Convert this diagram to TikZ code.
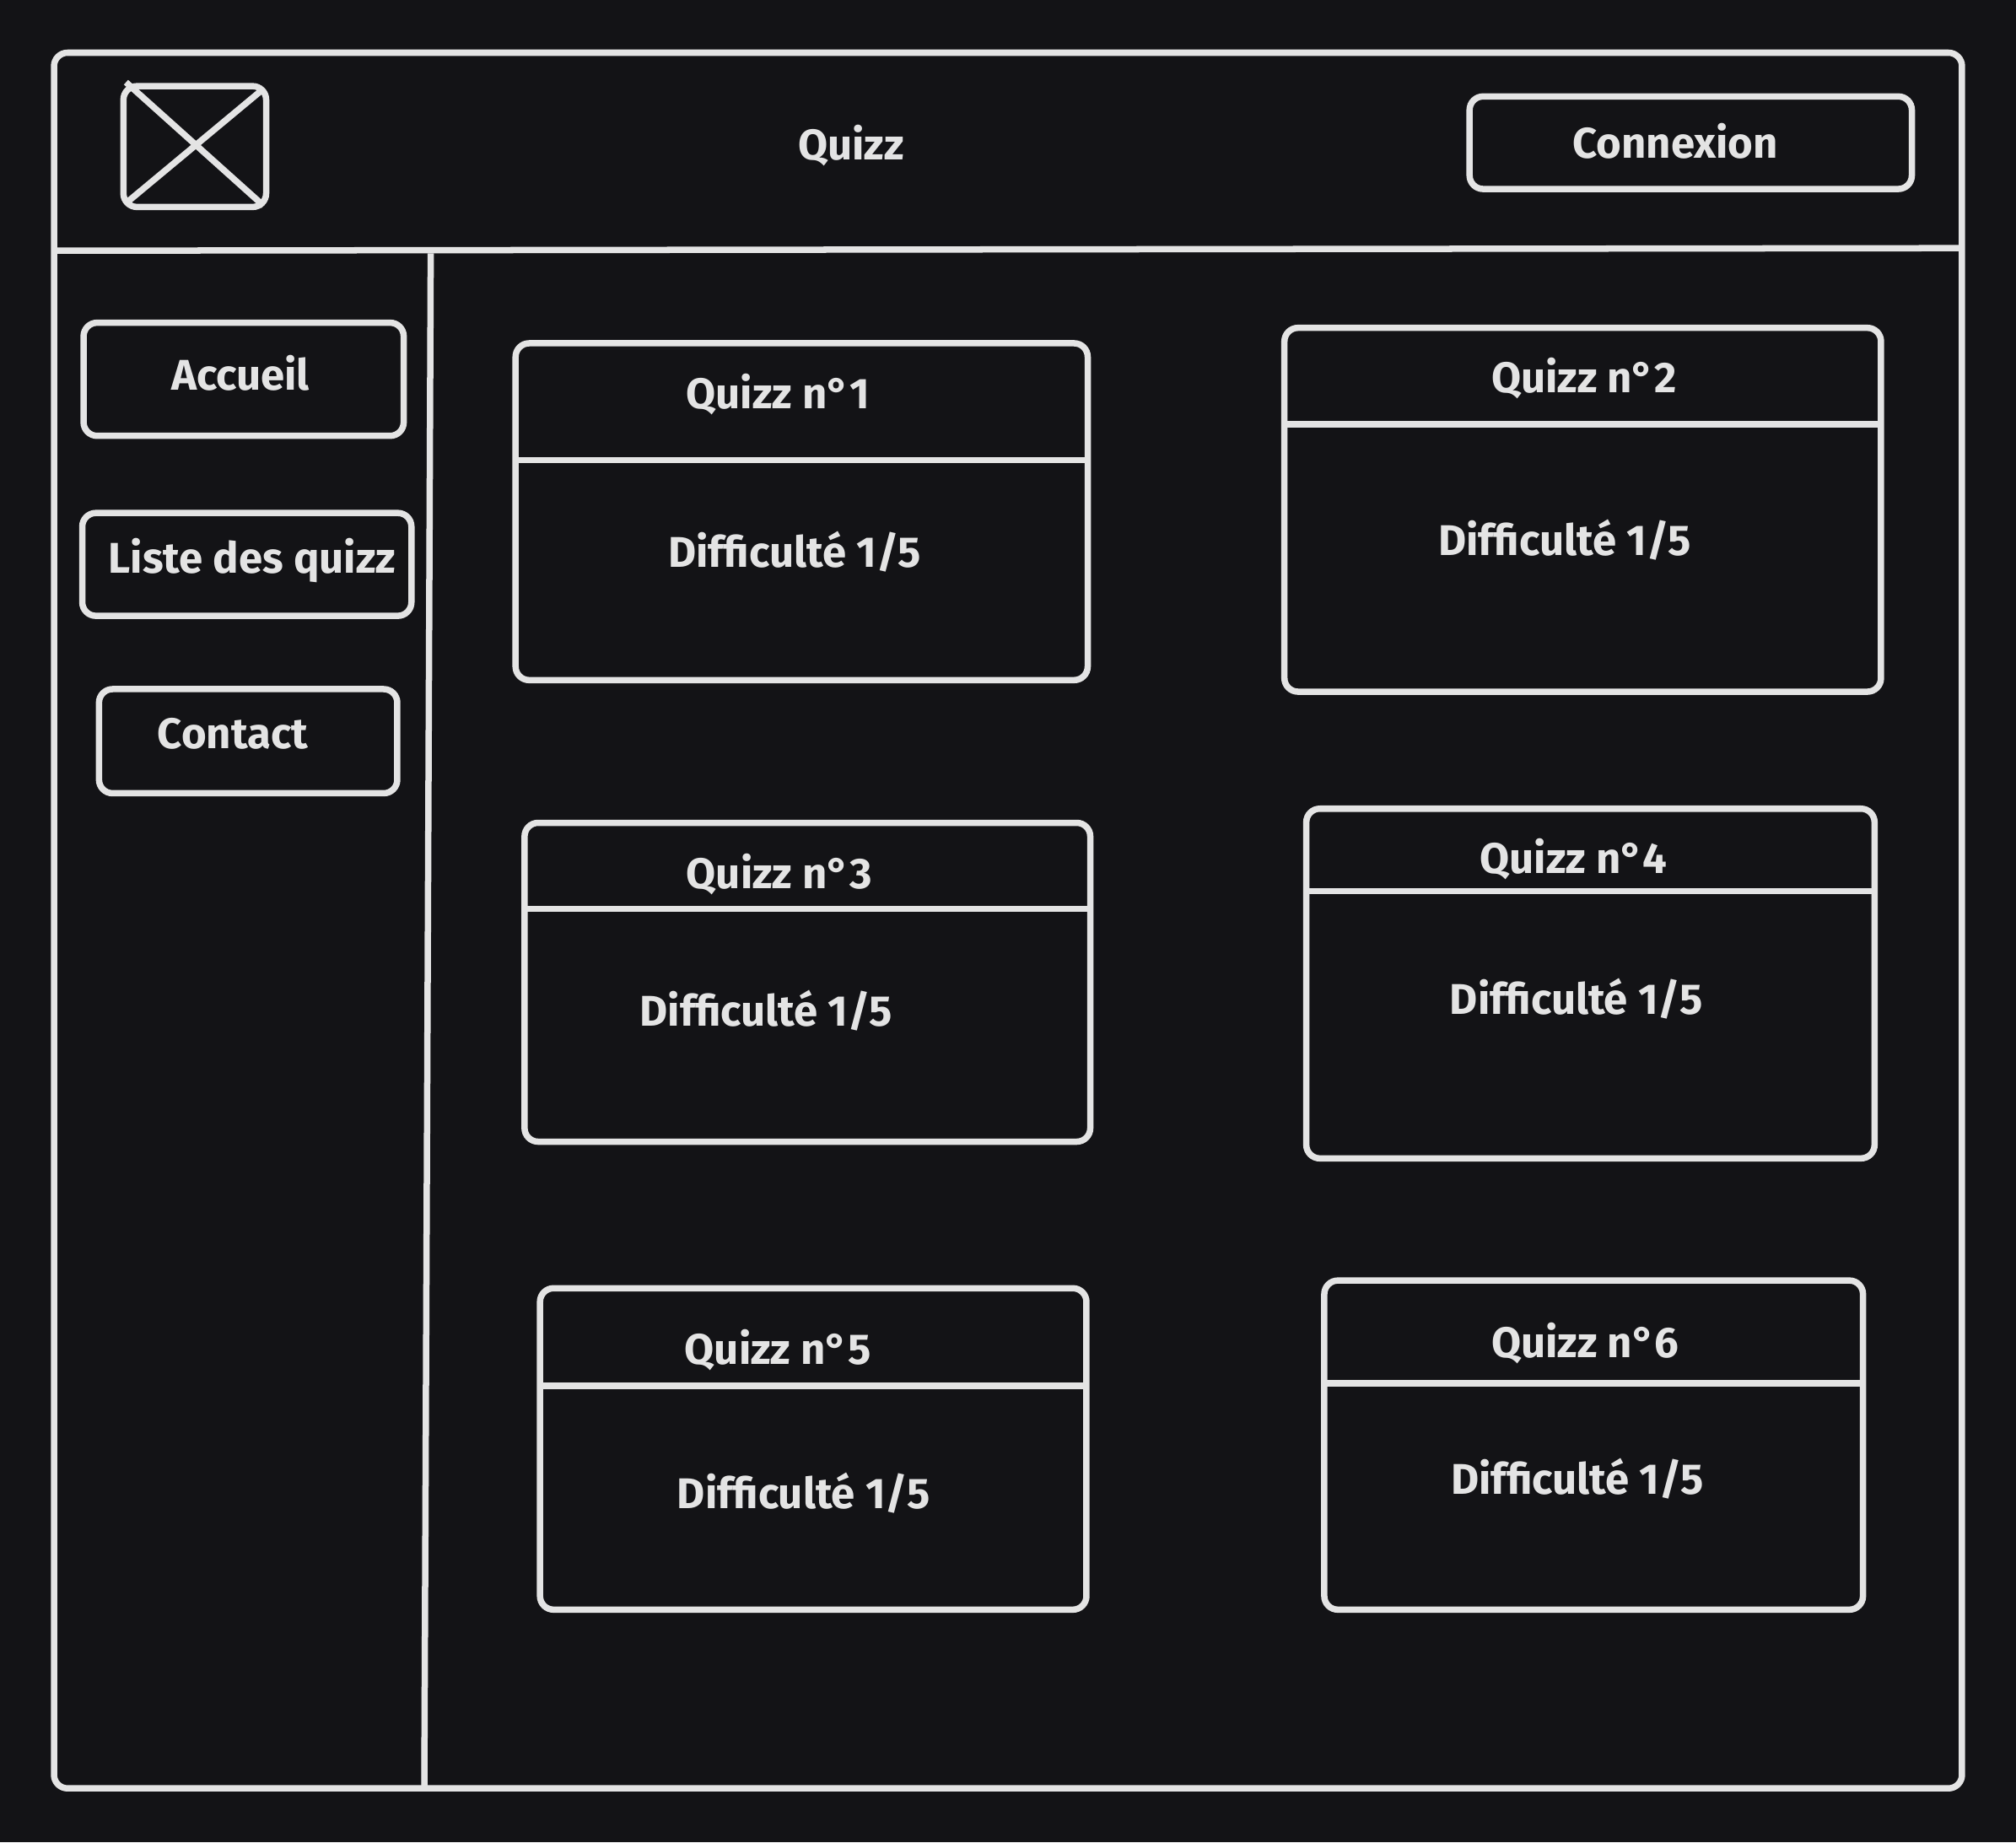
\documentclass[tikz,border=0pt]{standalone}
\usepackage{fontspec}
\setmainfont{Fira Sans}
\usepackage{tikz}
\definecolor{bg}{HTML}{131316}
\definecolor{fg}{HTML}{E4E4E4}
\tikzset{
  box/.style={draw=fg, line width=1.4pt, rounded corners=3pt},
  lbl/.style={text=fg, font=\fontsize{9.5}{11}\selectfont\bfseries, inner sep=0pt}
}

\begin{document}
\begin{tikzpicture}[x=0.01cm,y=-0.01cm]
% Background
\path[fill=bg] (0,0) rectangle (1568,1433);
\useasboundingbox (0,0) rectangle (1568,1433);
% Window frame
\draw[box] (42,41) rectangle (1526,1391);
\draw[fg,line width=1.4pt] (42,195) -- (1526,193);
\draw[fg,line width=1.4pt] (335,197) -- (330,1391);
% Header
\draw[box] (96,67) rectangle (207,161);
\draw[fg,line width=1.4pt] (98,64) -- (205,160) (205,69) -- (98,158);
\node[lbl] (title) at (662,113) {Quizz};
\draw[box] (1143,75) rectangle (1487,147);
\node[lbl] (login) at (1303,110) {Connexion};
% Side menu
\draw[box] (65,251) rectangle (314,339);
\node[lbl] (home) at (187,290) {Accueil};
\draw[box] (64,399) rectangle (320,479);
\node[lbl] (list) at (196,436) {Liste des quizz};
\draw[box] (77,536) rectangle (309,617);
\node[lbl] (contact) at (181,571) {Contact};
% Quiz cards
\foreach \i/\xa/\ya/\xb/\yb/\yd/\tx/\ty/\dx/\dy in {
  1/401/267/846/529/358/605/307/618/429,
  2/999/255/1463/538/330/1232/294/1217/420,
  3/408/640/848/888/707/606/680/596/786,
  4/1016/629/1458/901/693/1224/668/1226/777,
  5/420/1002/845/1252/1078/605/1050/625/1161,
  6/1030/996/1449/1252/1076/1233/1045/1227/1150}{
  \draw[box] (\xa,\ya) rectangle (\xb,\yb);
  \draw[fg,line width=1.4pt] (\xa,\yd) -- (\xb,\yd);
  \node[lbl] (q\i) at (\tx,\ty) {Quizz n°\i};
  \node[lbl] (d\i) at (\dx,\dy) {Difficulté 1/5};
}
\end{tikzpicture}
\end{document}
